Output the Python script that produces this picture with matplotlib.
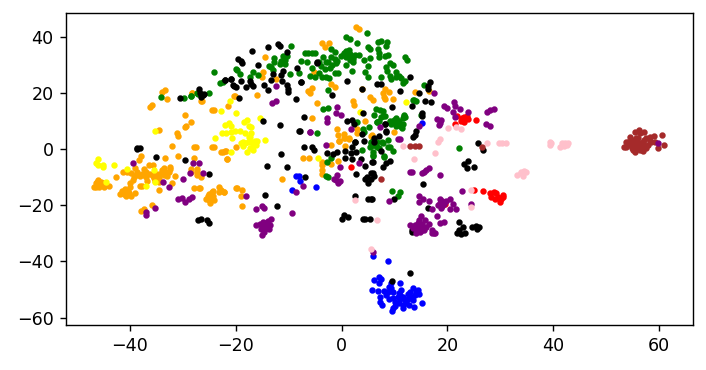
import matplotlib
matplotlib.use("Agg")
import matplotlib.pyplot as plt

# values, one list per colour
orange = [(-33.9,20.4),(-33.4,21),(-33,17.8),(-35.9,15.6),(-36.3,14.8),(-28.2,19.8),(-26.5,17.2),(-29.6,12.1),(-28.4,9.7),(-29.4,8.2),
  (-29.7,7.7),(-34.6,6.8),(-31.2,5.8),(-31,4.6),(-32,1.1),(-27.9,.6),(-27.5,.8),(-24.1,.6),(-24.6,.7),(-24.1,13.9),(-24.6,14),(-21.5,15.3),(-20.3,18.9),
  (-22.8,-1.1),(-22,-.6),(-21.7,-3.4),(-38,-2.4),(-38.3,-3.9),(-36.4,-5.5),(-35.6,-5.5),(-33.3,-3.3),(-31,-2.4),(-28,-3.3),
  (-41.3,-8.1),(-42.6,-10),(-40.5,-8.1),(-39.9,-8.4),(-39.3,-10.1),(-39,-6.9),(-38.6,-8.1),(-37.8,-8.9),(-37.4,-7.1),(-37,-8.3),(-36.9,-10.1),
  (-36.7,-11.3),(-35.7,-9.6),(-35.4,-10.4),(-34.6,-8.9),(-34.5,-10.4),(-33.6,-6.9),(-33.3,-8.1),(-32.5,-6.3),(-32.6,-8.1),(-33.6,-9.3),(-31.5,-9.7),
  (-32.1,-12.2),(-34.6,-11.6),(-34.6,-14.6),(-38.2,-13.2),(-37.7,-13.2),(-40,-12),(-40,-13.4),(-41.5,-14.8),(-41,-15.2),(-41.8,-16),(-41.1,-16),
  (-40.2,-15.5),(-39.9,-16.7),(-39,-15.8),(-46,-11),(-45.5,-11.6),(-46.5,-12.2),(-46,-12.8),(-45.4,-12.8),(-46.8,-13.6),(-45.9,-13.6),(-45,-13.6),
  (-43.9,-13.3),(-46.4,-13.6),(-28.5,-7.1),(-28.5,-8.3),(-27.3,-7.1),(-27.3,-8.2),(-27.3,-9.3),(-26.5,-9.8),(-28,-13.9),(-27,-14),(-26.7,-14),
  (-24.3,-14.8),(-23.1,-13.6),(-23.1,-15.4),(-22.2,-15.3),(-25.2,-16.7),(-24.7,-16.7),(-24.3,-16.7),(-25.1,-18.2),(-24.6,-17.9),(-24.8,-19.1),(-20,-14),
  (-35.9,-20),(-38,-22.1),(-37.3,-21.5),(2.8,43.3),(3.2,42.8),(-2,23.1),(-1.3,22.2),(-5.7,21.7),(-6.4,20.8),(-6,19.8),(5.4,18.4),(5.9,17.6),
  (8.1,21.2),(7.8,19.8),(8.9,20.2),(8,18.6),(8.1,17.7),(9.7,17.7),(2.1,17),(2.4,15.8),(-4.6,16.3),(13.9,20.2),(16.5,20.8),(-5.7,10.9),(4.5,10.1),
  (-.8,7.1),(2.9,7.1),(2.9,5.7),(-.7,5),(.4,5.3),(.4,3.9),(1.4,3.8),(9.9,5.9),(-.5,2.9),(5.6,4.7),(-3.7,37.8),(-2.3,37.8),(-3.1,36.2),(-14.4,32.9),
  (-14.9,27.4),(-15,25.5),(-12.5,24.9),(-5.3,27.5),(-20.2,18.7),(-16,19.3),(3.8,21.2),(-7.4,-3.1),(-6.2,-3.3),(-2.1,1.5),(-3.8,-4.5),(-3.8,-5.7),
  (-3.8,-7.5),(-3.8,-9),(-2.1,-5.3),(-.6,-4.2),(.6,1.1),(-11.2,-10.8),(-19.7,-14),(-18.8,-14.4),(-19,-16.7),(-18.8,-20.2),(-22.2,-15.2),(-22.8,-14.6),
  (-14.7,-28.5),(5.8,5),(1.4,3.6),(.6,3.8),(-.5,3),(-20,.6),(-21.8,-.6),(-22.4,-1.1),(-21.7,-3.6),(-26.4,17.2),(-28.3,20),
  # denser bits of the left group
  (-38.9,-9.2),(-38.2,-9.6),(-37.4,-9.3),(-36.2,-8.8),(-35,-9),(-33,-9.6),(-32.4,-7.2),(-34,-7.6),(-40.9,-14.2),(-40.4,-14.8),(-40.7,-16.8),(-45.6,-12.2),(-45.1,-12.2),
  (-46.3,-11.6),(-25.6,-17.6),(-24.2,-18),(-25,-15.9),(-24.6,-15.2),(-39.4,-11),(-35.2,-11.2)]

yellow = [(-46.5,-4.9),(-46,-3.7),(-46,-5.7),(-45.2,-5.5),(-45.1,-6.5),(-43.1,-5.5),(-40.6,-7),(-35.5,-7.6),(-44.5,-11.6),(-37,-13),(-35.3,-11.8),
  (-35.3,6.3),(-23.9,4),(-22.9,13.4),(-21.1,17.2),(-20,13),(-20.9,-1.2),(-15.4,10.9),(-17.9,10.3),(-18.5,9.5),(-22.1,8.6),(-21.2,9.1),(-21,8.3),(-17.5,8.1),
  (-17.1,8),(-22.6,5.6),(-21.8,5.8),(-20.9,6.2),(-20.2,6.3),(-19.3,6.5),(-18.3,5.7),(-17.1,5.6),(-17.4,4.4),(-20.8,4.1),(-14.4,3.2),(-16,3),(-18.6,2.5),
  (-17.7,2.5),(-17.1,2.5),(-4.5,-3.3),(-18.3,2),(-19,2),(-17.4,.2),(-16.8,-.4),(-17.9,-1),(-16.1,1.4),(-17.5,4.4),(-18.7,1.1),(-16.8,1.1),(-16.4,2.8),(12.1,16.7),(3.4,13.3)]

green = [(-9.5,36.6),(-24.1,27.5),(-19.2,26.7),(-20,28.6),(-19.8,28.1),(-16.8,27.5),(-17.4,25.7),(-15.9,26.2),(-23,23.5),(-22.5,24),(-12.8,32.3),(-12.8,30.8),
  (-13.7,29.7),(-13.3,29.1),(-13,28.1),(-11.5,31.4),(-11.6,30.3),(-11.1,33.2),(-10.3,33.2),(-10.8,31.8),(-10.8,30.3),(-9.7,26.7),(-8.1,26.9),(-7.6,31.4),
  (-6.5,30.8),(-7,34.2),(-6.4,34.3),(-5.7,34.3),(-5.1,34.3),(-5.6,28.8),(-4.3,30.8),(-4,29.7),(-3.2,28.5),(-3.5,32.6),(-2,35.7),(-1.2,34.4),(-2,32.6),
  (-2.6,30.8),(-1.8,29.9),(-1,30.5),(-1.2,32),(.4,33.8),(.9,32.6),(1.4,35.2),(.9,39.7),(1.5,39),(.9,30),(2,27.9),(2.2,32),(2.5,33.6),(-5.9,26.1),(-5.1,25.5),
  (-4.2,26.9),(-3.8,25.5),(-2.9,25.5),(-2.3,25.3),(-1.3,27.2),(-.7,27.2),(-2.5,21.1),(-3.5,14.2),(-2.5,14.5),(-4.7,5.6),(-28.4,18.7),(-27.2,19.6),(-25.1,19.8),
  (-34.2,18.6),(-29.8,18.3),(-28.5,18.9),(-27.3,20),(4.7,41.3),(2.9,37.9),(6.9,38.2),(7.5,38.3),(8.6,38),(8.4,36.8),(5,36.4),(5.3,35.7),(6.9,35.6),(7.1,34),
  (8.1,33.2),(8.8,33.6),(7.1,32.6),(.9,35),(.4,34),(1.5,33.8),(3.3,33.6),(1.8,33.2),(2.1,31.1),(4.2,31.7),(5.3,32.3),(5,29.4),(4.4,27.3),(5,25.8),(11.9,32.6),
  (12.4,31.8),(9.1,30.5),(9.7,30),(8.3,29.1),(8.6,27.9),(9.1,26.1),(7.5,25.5),(9.4,24.9),(10.3,27.3),(10.8,26.1),(10.3,25.5),(11.2,25.3),(11.9,24.3),(11.6,23.4),
  (15.6,22.8),(13.6,17.4),(14,17.2),(6.4,14.2),(7.2,13.9),(7.9,13.4),(11.7,11.9),(11.6,11),(10.3,10.7),(9.1,9.8),(10,9.5),(10.3,8.3),(11,8.3),(11.6,8.9),(7.1,9.8),
  (6.7,9.5),(6.1,12.1),(7.8,11.9),(7.4,11.3),(4,7.1),(4.3,6),(5.2,8),(2.9,9.5),(8.8,3.2),(7.7,2.6),(9.7,-.7),(9.1,.8),(6.6,.8),(6.2,1.4),(5.6,2),(5.9,-.9),(8,-2.5),
  (5.9,-2.4),(22.2,.2),(9.6,-14.8),(11,-15.4),(10.6,-16.7),(8.1,11.7),(6.7,9.7),(9.1,9.7),(10.2,10.9),(10.3,9.4),(11.4,7.4),(11.8,12.1),(11.9,11.3),(9.8,10.3),(13.4,17.4),
  (15,12.1),(-2.7,-4.5),(-2.1,-3.3),(-3,-9.6),(-2.5,-9.8),(5.9,1.4),(5.3,.8),(6.6,2.6),(7.8,2),(8.8,.8),(3.8,-.4),(5.9,-2.1),(8,-2.7),(5.6,2.6),
  (1.2,33),(-.2,33.2),(-.8,31.5),(1.6,31.6),(-3,31),(-2.2,28.8),(10.8,10.1),(9.4,8.8),(6.2,3.2),(7,.2)]

blue = [(6,-38),(8.8,-39.9),(6.1,-46.6),(7,-45.7),(7.5,-46.3),(7,-47.8),(5.7,-50.2),(6.9,-50.5),(8,-50.5),(8.8,-50.8),(8.9,-49),(9.4,-47.8),(11,-47.8),(9.7,-50.8),
  (10.8,-51.1),(11.3,-50.2),(12.9,-50.8),(13.5,-49.6),(14.4,-50.2),(14.6,-51.4),(13.8,-52),(13.2,-52.5),(11.6,-52.5),(11,-52),(7.2,-52.5),(7.3,-54.3),(7.7,-55.5),(8.9,-53.5),
  (9.7,-53.1),(10,-54.3),(11,-53.5),(11.9,-53.7),(12.5,-53.5),(13.5,-53.7),(11.6,-55.5),(12.2,-54.9),(10,-55.8),(9.5,-57.5),(11.6,-56.7),(13.6,-56.1),(15.1,-54.7),(9.7,-56.7),
  (10.6,-52.8),(-8.6,-9.6),(-8.1,-9.6),(-7.9,-11.3),(-9.4,-14.6),(-4.8,-13.4),(15.2,9.3),(9.3,-49.5),(12.6,-51.6),(10.9,-54.6),(12.7,-55.6),(14,-50.9),(8.4,-51.9)]

red = [(21.8,11.7),(23.2,11.5),(23.7,11.7),(22.7,10.9),(22.6,10.1),(23.2,9.7),(23.9,10.6),(21.5,9),(25.4,10.3),(25.1,-14.4),(26.7,-15.1),(28.1,-15.8),(28.7,-15.2),(29.2,-15.8),
  (28.3,-17),(28.9,-17.6),(29.6,-17),(30.5,-16.4),(30.2,-17.6),(29.9,-18.7),(30.4,-17.2),(19.6,-19.6),(1.7,-6.5)]

black = [(-38.6,.3),(-38.1,.5),(-38.7,0),(-35,-3),(-29.7,-3.9),(-25,-8.9),(-27.1,-25.3),(-26.5,-24.9),(-25.4,-25.3),(-25.1,-26.2),(-30.6,18),(-27,21.3),(-26.7,19.8),(-26.3,19.2),
  (-26,19.6),(-26.5,18.6),(-22,24.6),(-21,24.8),(-20.3,22.4),(-4.7,30.8),(-7.6,24),(1.1,24.3),(-1.8,19.3),(3.8,21.2),(6.6,23.1),(7.4,23.1),(13,25.5),(16.6,23.7),(16.3,22.5),(16.3,21.3),
  (11,20.5),(14.7,19.8),(15.8,17.2),(16.8,16.6),(13.2,15.3),(9.5,14.8),(15.1,12.9),(15.2,11.9),(-7.2,11.5),(4,12.8),(1,9.8),(2,10.3),(2.3,8.9),(8.1,8.9),(8.3,6.5),(14.1,6.3),(13.8,5.1),
  (13.5,4.4),(3.8,5.3),(7,4.5),(6.2,3.9),(2.6,2.4),(4.2,2.7),(6.1,2.4),(-7.9,6.5),(-16.9,34.8),(-14,36.2),(-12.1,37.4),(-11.7,36.5),(-10.4,34.5),(-19.6,31.9),(-19.1,31.2),(-18.8,30.7),
  (-15.9,30),(-13,26.7),(-11.1,27.9),(-11.4,26.5),(-8.4,29),(-13.4,24.5),(-11.3,24.3),(-7.7,23.8),(-22.1,24.7),(-20.9,24.9),(-20.5,22.9),(-19.9,22),(-19,24.1),(-18.1,22.2),(-17.3,24.3),
  (-17.2,23.1),(-16.8,22.3),(-14.7,22.8),(-14,21.1),(-19.4,18.3),(-10.3,22.8),(-10.1,21.3),(-10.1,20.2),(-8.6,17.8),(-14.8,9.8),(-11.6,8.6),(-8.1,6.5),(-4.6,30.6),
  (8.2,8.8),(8.3,6.2),(7.4,-.8),(5.9,-4.5),(9.1,-4.1),(8.4,-5.1),(7.8,-6.3),(5.6,-8.7),(5.9,-8.7),(6.1,-9.6),(5.6,-10.8),(25.8,2),(26.7,-.5),(23.9,-4.3),(23.2,-5.3),(23.6,-6.9),(25.1,-6.4),
  (15.4,-12.5),(9.9,-17.9),(5.6,-17.9),(16.4,-21.1),(13.2,-28.8),(13.3,-29.4),(22.1,-26),(23,-27.6),(22.2,-28.8),(21.8,-29.8),(22.6,-30.2),(23.3,-29.8),(24.7,-27.6),(25.3,-27.4),(26,-27.8),(25.5,-28.6),
  (-7.2,.6),(-5.7,.8),(-5.2,-.4),(-11.4,-1.8),(-14.1,-5.9),(-10.3,-6.5),(-6.9,-9.8),(-14.4,-16.3),(-12.2,-20.2),(-2.8,-1.3),(-1.6,-1.9),(-.9,-1.2),(.6,-.7),(1.8,-1.5),(2.8,-.9),(.6,-3.3),(2,-3.7),
  (2,.6),(2.6,2.4),(3.7,-3.7),(4.5,-5.9),(5.8,-4.5),(2.8,-9),(4.7,-9.8),(4.4,-10.8),(5,-12),(2.6,-16.8),(5,-17.6),(5.7,-17.9),(.4,-23.5),(.1,-24.8),(1.2,-24.1),(4,-24.9),(4.4,-25),(5.3,-25),
  (9.6,-47),(13,-44.2)]

purple = [(-39.4,-4.8),(-28.1,-4.8),(-27,-4.8),(-28.7,-8.5),(-26.2,-8.4),(-30,-10.8),(-33.8,-11.9),(-32.7,-13.5),(-31,-17.7),(-30.2,-17.3),(-29.7,-18.9),(-28.9,-17.7),(-28.3,-17.2),(-35.2,-21.1),
  (-36.9,-22.5),(-37,-23.5),(-12.4,22.5),(-13.1,16.5),(-12.5,17),(-.9,15.1),(-1,12.8),(-.2,12.2),(-2.8,10.9),(-2.8,9.5),(-5.9,5.9),(1.8,7.1),(17.4,19.9),(19.3,15.4),(19.9,14.5),(21.2,16.6),(21.5,15.4),
  (22.3,14.1),(21,13.1),(21.4,11.5),(23.8,13.3),(27.5,13.3),(28,13.9),(28.7,14.1),(27.2,8.9),(28,8.2),(18,10.6),(18.8,10.3),(18.6,9.1),(18.4,8.5),(14.6,8.2),(11,3.6),(10.6,3.4),(7.2,7.7),(16.5,-6.9),
  (16,-7.5),(15.5,-8.1),(15.1,-8.7),(13.3,-8.1),(13,-8.3),(18.5,-9.2),(22.8,-14.8),(14.7,-16.7),(14.6,-18.7),(15.4,-17.6),(16.5,-18.4),(20.4,-17.6),(19.7,-18.5),(18.6,-17.6),(18.5,-19.3),(19.3,-19.6),
  (18.2,-19.9),(18.8,-21.1),(21,-19.6),(20.4,-21.5),(21.7,-21.3),(17.1,-21.5),(18,-23.7),(19.3,-25.9),(18.5,-26.2),(14.9,-23.8),(14.6,-25.3),(15.7,-25.3),(13,-27),(13.8,-27),(14.7,-27),(16.5,-26.7),
  (16,-27.6),(15.4,-27.9),(14.1,-28.6),(15.1,-28.8),(14.1,-30),(17.1,-28.8),(17.4,-30),(17,-29.8),(17.7,-30),(9,-18.4),(24.5,-19.6),(-5.9,6),(-2.9,1.3),(-.3,-6.3),(3.2,-5.1),(-.8,-9.3),(-1.5,-10.8),
  (-1,-11),(-.4,-11.4),(-.7,-12),(-7.4,-13.2),(-8.7,-15.2),(-18.1,-16.7),(-16.2,-21.2),(-15.1,-20.3),(-14.6,-20.8),(-9.4,-22.7),(-13.3,-25),(-13.9,-25.5),(-14.9,-25.9),(-16.2,-27.1),(-14.2,-27.1),
  (-13.5,-27.1),(-14.9,-27.7),(-13.8,-28.6),(-14.6,-29.4),(-15.1,-30.6),(6,-36.8),
  # tighter parts of the two lower clusters
  (-14.5,-26.3),(-15.4,-26.6),(-15.2,-28.6),(-14.2,-28.2),(14.5,-26.2),(15.2,-26.5),(14.4,-27.9),(15.6,-28.9),(13.5,-28),(14.8,-29.4),(19,-18.6),(18.9,-20.2)]

pink = [(20.1,7.5),(21.7,8),(22.5,7.2),(11.6,1.1),(18.2,2.6),(18.5,3.6),(17.6,-1.5),(13.7,-3.7),(27.5,2),(29.7,2.3),(30.3,2.3),(31,2.3),(33.1,-9.2),(33.8,-8.7),(34.3,-9.6),(34.4,-7.8),(34.8,-8.1),
  (33.9,-8),(24.4,-14.4),(24.4,-20.5),(6.7,-25.3),(5.6,-35.7),(2.6,-18.2),(39.3,2.4),(39.6,2),(39.4,1.4),(41.2,.6),(41.6,2),(42.2,2.3),(42.7,2),(42,1.1),(42.6,1.4)]

brown = [(13,1.2),(13.8,1.2),(14.6,1.2),(7.4,-10.7),(26.5,.6),(53.3,.8),(54.4,4.4),(53.8,2.4),(54.8,3.2),(55.5,6.2),(56.2,6.8),(56.3,5.6),(57.2,6.2),(55.7,3.8),(54.4,1.4),(55,2),(55.7,2.6),(56.3,2),
  (56.9,2.6),(57.6,3.8),(58.2,4.2),(59,4.6),(58.5,2.6),(60.6,4.9),(60.9,1.5),(59.7,.5),(59.2,2.6),(53.8,.6),(54.8,.2),(55.5,-1.2),(56,.2),(56.9,-.7),(57.6,.2),(57.9,1.4),(57.3,1.1),(55.4,.8),(56.6,.8),
  (58.2,3),(54.2,2.6),(56,3.8),(55.2,1.2),(56.1,1.1),(57,1.6),(55.1,-.3),(56.4,-.4),(57.2,3.2)]
purple_top = [(59.7,2)]

groups = [(orange, "orange"), (yellow, "yellow"), (green, "green"), (blue, "blue"), (red, "red"),
          (black, "black"), (purple, "purple"), (pink, "pink"), (brown, "brown"), (purple_top, "purple")]

fig = plt.figure(figsize=(706/126, 370/126), dpi=126)
ax = fig.add_axes([66/706, 1-325/370, 627/706, 312/370])

for pts, col in groups:
  ax.scatter([p[0] for p in pts], [p[1] for p in pts], s=7, c=col)

ax.set_xlim(-52.1, 66.4)
ax.set_ylim(-62.6, 48.4)

fig.savefig("out.png", dpi=126)
